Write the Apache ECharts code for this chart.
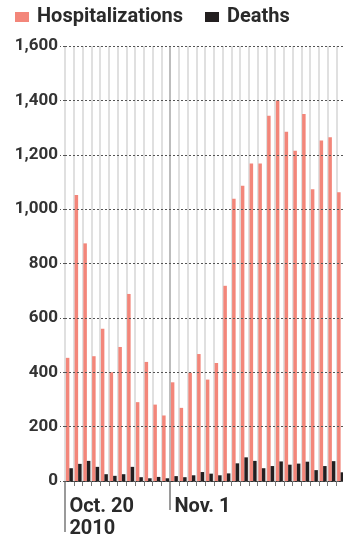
<!DOCTYPE html>
<html>
<head>
<meta charset="utf-8">
<script src="https://cdn.jsdelivr.net/npm/echarts@6/dist/echarts.min.js"></script>
<style>
  html, body { margin: 0; padding: 0; background: #fff; }
  #chart { width: 343px; height: 541px; }
</style>
</head>
<body>
<div id="chart"></div>
<script>
// ---- Data ----
const dates = [
  'Oct. 20','Oct. 21','Oct. 22','Oct. 23','Oct. 24','Oct. 25','Oct. 26','Oct. 27',
  'Oct. 28','Oct. 29','Oct. 30','Oct. 31',
  'Nov. 1','Nov. 2','Nov. 3','Nov. 4','Nov. 5','Nov. 6','Nov. 7','Nov. 8','Nov. 9',
  'Nov. 10','Nov. 11','Nov. 12','Nov. 13','Nov. 14','Nov. 15','Nov. 16','Nov. 17',
  'Nov. 18','Nov. 19','Nov. 20'
];
const hospitalizations = [
  453, 1052, 874, 459, 560, 400, 493, 688, 290, 438, 281, 241,
  363, 269, 398, 467, 373, 434, 718, 1038, 1086, 1168, 1168, 1343,
  1400, 1285, 1215, 1350, 1073, 1252, 1264, 1062
];
const deaths = [
  47, 63, 74, 52, 25, 19, 25, 52, 14, 10, 15, 10,
  18, 14, 21, 33, 27, 21, 28, 65, 87, 74, 47, 55,
  72, 60, 64, 71, 40, 55, 73, 32
];
const labeledDates = ['Oct. 20', 'Nov. 1'];
const labelTexts = ['Oct. 20\n2010', 'Nov. 1'];
const seriesNames = ['Hospitalizations', 'Deaths'];
const yTicks = [0, 200, 400, 600, 800, 1000, 1200, 1400, 1600];

// ---- Chart ----
const FONT = 'Roboto, "Noto Sans", sans-serif';
const firstIdx = dates.indexOf(labeledDates[0]);
const novIdx = dates.indexOf(labeledDates[1]);

// vertical day lines: light grey, the Nov. 1 boundary a little darker
const dayLineColors = [];
for (let i = 0; i <= dates.length; i++) {
  dayLineColors.push(i === novIdx ? '#bdbdbd' : '#e0e0e0');
}

const chart = echarts.init(document.getElementById('chart'), null, { renderer: 'canvas' });

const option = {
  animation: false,
  backgroundColor: '#ffffff',
  legend: {
    data: seriesNames,
    left: 10,
    top: 2,
    icon: 'rect',
    itemWidth: 14,
    itemHeight: 10,
    itemGap: 22,
    selectedMode: false,
    textStyle: {
      fontFamily: FONT,
      fontWeight: 'bold',
      fontSize: 20,
      color: '#2a2a2a',
      padding: [0, 0, 0, 3]
    }
  },
  grid: { left: 65, right: -2, top: 46, bottom: 60, containLabel: false, outerBoundsMode: 'none' },
  xAxis: [
    {
      type: 'category',
      data: dates,
      position: 'bottom',
      boundaryGap: true,
      axisLine: { show: true, lineStyle: { color: '#333', width: 1 } },
      axisTick: { show: true, interval: 0, length: 5, lineStyle: { color: '#777', width: 1 } },
      axisLabel: {
        show: true,
        interval: function (i) { return i === firstIdx || i === novIdx; },
        formatter: function (v) {
          const k = labeledDates.indexOf(v);
          return k >= 0 ? labelTexts[k] : '';
        },
        align: 'left',
        margin: 15,
        lineHeight: 22,
        fontFamily: FONT,
        fontWeight: 'bold',
        fontSize: 20,
        color: '#2a2a2a'
      },
      splitLine: { show: true, interval: 0, lineStyle: { color: dayLineColors, width: 2 } }
    },
    {
      type: 'category',
      data: dates,
      position: 'bottom',
      offset: 0,
      boundaryGap: true,
      axisLine: { show: false },
      axisLabel: { show: false },
      axisTick: { show: true, interval: function (i) { return i === firstIdx; }, length: 51,
                  lineStyle: { color: '#9a9a9a', width: 2 } },
      splitLine: { show: false }
    },
    {
      type: 'category',
      data: dates,
      position: 'bottom',
      offset: 0,
      boundaryGap: true,
      axisLine: { show: false },
      axisLabel: { show: false },
      axisTick: { show: true, interval: function (i) { return i === firstIdx || i === novIdx; }, length: 29,
                  lineStyle: { color: '#9a9a9a', width: 2 } },
      splitLine: { show: false }
    }
  ],
  yAxis: {
    type: 'value',
    min: yTicks[0],
    max: yTicks[yTicks.length - 1],
    interval: yTicks[1] - yTicks[0],
    z: 10,
    axisLine: { show: false },
    axisTick: { show: true, length: 5, lineStyle: { color: '#555', type: [2, 2], width: 1 } },
    axisLabel: {
      margin: 7,
      fontFamily: FONT,
      fontWeight: 'bold',
      fontSize: 17,
      color: '#333',
      formatter: function (v) { return v.toLocaleString('en-US'); }
    },
    splitLine: { show: true, lineStyle: { color: '#555', type: [2, 2], width: 1 } }
  },
  series: [
    {
      name: seriesNames[0],
      type: 'bar',
      xAxisIndex: 0,
      data: hospitalizations,
      barWidth: 3.5,
      itemStyle: { color: '#f3867a' }
    },
    {
      name: seriesNames[1],
      type: 'bar',
      xAxisIndex: 0,
      data: deaths,
      barWidth: 3.5,
      barGap: '0%',
      itemStyle: { color: '#231f20' }
    }
  ]
};

chart.setOption(option);
</script>
</body>
</html>
